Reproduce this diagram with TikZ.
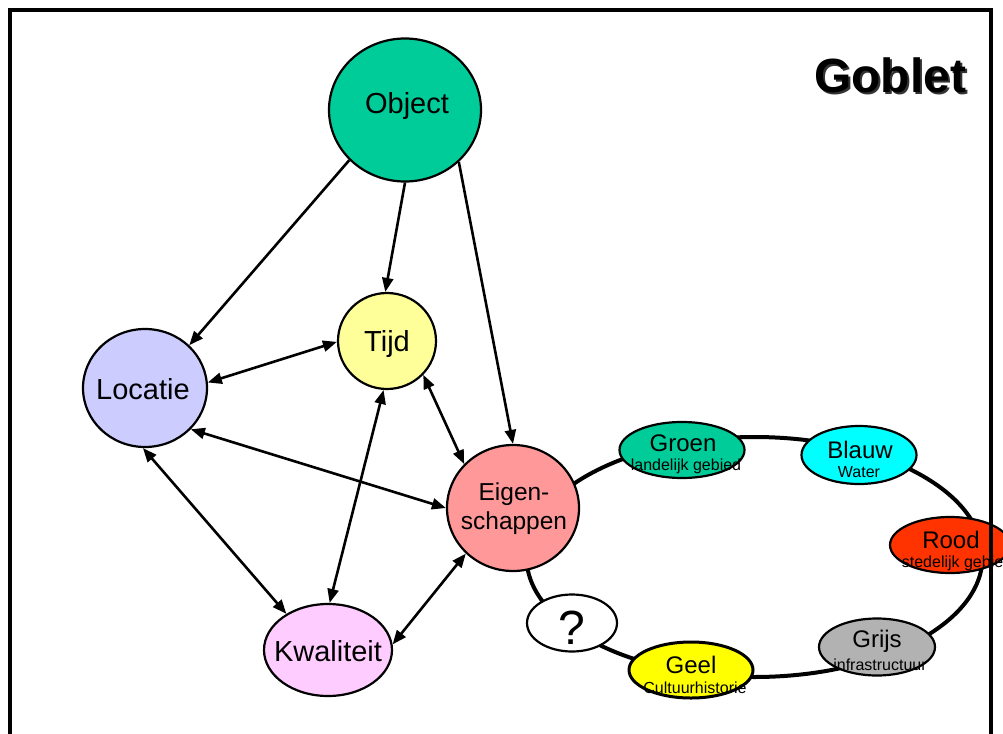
\documentclass[tikz,border=0pt]{standalone}
\usepackage{fontspec}
\setmainfont{Liberation Sans}
\usetikzlibrary{arrows.meta,shapes.geometric}

\definecolor{objgreen}{RGB}{0,204,153}
\definecolor{tijdyellow}{RGB}{255,255,153}
\definecolor{lavender}{RGB}{204,204,255}
\definecolor{salmon}{RGB}{255,153,153}
\definecolor{pinkish}{RGB}{255,204,255}
\definecolor{cyanblue}{RGB}{0,255,255}
\definecolor{redorange}{RGB}{255,51,0}
\definecolor{greyish}{RGB}{178,178,178}
\definecolor{brightyellow}{RGB}{255,255,0}

\tikzset{
  concept/.style={ellipse, draw=black, line width=2.2pt, inner sep=0pt},
  conceptname/.style={inner sep=0pt, font=\fontsize{29}{31}\selectfont},
  theme/.style={ellipse, draw=black, line width=2.2pt, inner sep=0pt},
  themetitle/.style={inner sep=0pt, font=\fontsize{24}{24}\selectfont},
  themesub/.style={inner sep=0pt, font=\fontsize{16}{16}\selectfont},
  tip/.tip={Triangle[length=14pt,width=11pt]},
  link/.style={line width=2.6pt, -tip},
  biLink/.style={line width=2.6pt, tip-tip},
}

\begin{document}
\begin{tikzpicture}[x=1pt,y=-1pt]
\useasboundingbox (0,0) rectangle (1003,733);

% ring of themes behind the property node
\draw[line width=4pt] (754.5,557) ellipse [x radius=228, y radius=120];

% main concepts
\node[concept, fill=objgreen, minimum width=152pt, minimum height=143pt] (obj) at (405,110) {};
\node[conceptname] (obj-t) at (407,106) {Object};
\node[concept, fill=tijdyellow, minimum width=98pt, minimum height=96pt] (tijd) at (387,341) {};
\node[conceptname] (tijd-t) at (387,344) {Tijd};
\node[concept, fill=lavender, minimum width=124pt, minimum height=118pt] (loc) at (145,388) {};
\node[conceptname] (loc-t) at (143,389) {Locatie};
\node[concept, fill=salmon, minimum width=132pt, minimum height=126pt] (eig) at (513,508) {};
\node[conceptname, align=center, font=\fontsize{24.5}{29}\selectfont] (eig-t) at (514,509) {Eigen-\\schappen};
\node[concept, fill=pinkish, minimum width=128pt, minimum height=92pt] (kwal) at (328,650) {};
\node[conceptname] (kwal-t) at (328,651) {Kwaliteit};

% themes on the ring
\node[theme, fill=objgreen, minimum width=125pt, minimum height=56pt] (groen) at (682,450) {};
\node[themetitle] (groen-t) at (683,443) {Groen};
\node[themesub] (groen-s) at (686,466) {landelijk gebied};

\node[theme, fill=cyanblue, minimum width=115pt, minimum height=58pt] (blauw) at (859,455) {};
\node[themetitle] (blauw-t) at (860,450) {Blauw};
\node[themesub] (blauw-s) at (859,472) {Water};

\node[theme, fill=redorange, minimum width=120pt, minimum height=56pt] (rood) at (950,545) {};
\node[themetitle] (rood-t) at (951,540) {Rood};
\node[themesub] (rood-s) at (957,563) {stedelijk gebied};

\node[theme, fill=greyish, minimum width=116pt, minimum height=57pt] (grijs) at (877,647) {};
\node[themetitle] (grijs-t) at (877,641) {Grijs};
\node[themesub] (grijs-s) at (880,665) {infrastructuur};

\node[theme, fill=brightyellow, line width=3pt, minimum width=124pt, minimum height=56pt] (geel) at (691,670) {};
\node[themetitle] (geel-t) at (691,665) {Geel};
\node[themesub] (geel-s) at (695,688) {Cultuurhistorie};

\node[theme, fill=white, minimum width=90pt, minimum height=57pt] (vraag) at (572,623) {};
\node[inner sep=0pt, font=\fontsize{48}{48}\selectfont] (vraag-t) at (572,628) {?};

% connectors between concepts
\draw[link] (obj.222) -- (loc.44);
\draw[link] (obj.270) -- (tijd.92);
\draw[link] (obj.316) -- (eig.90);
\draw[biLink] (loc.5) -- (tijd.181);
\draw[biLink] (loc.318) -- (eig.180);
\draw[biLink] (loc.268) -- (kwal.139);
\draw[biLink] (tijd.317) -- (eig.138);
\draw[biLink] (kwal.88) -- (tijd.266);
\draw[biLink] (kwal.5) -- (eig.224);

% title with a drop shadow
\node[font=\fontsize{48}{48}\bfseries\selectfont] (title) at (890,76)
  {\rlap{\hspace{2pt}\raisebox{-2pt}{\color{black!80}Goblet}}Goblet};

% frame
\draw[line width=4pt] (10,745) -- (10,10) -- (991,10) -- (991,745);
\end{tikzpicture}
\end{document}
